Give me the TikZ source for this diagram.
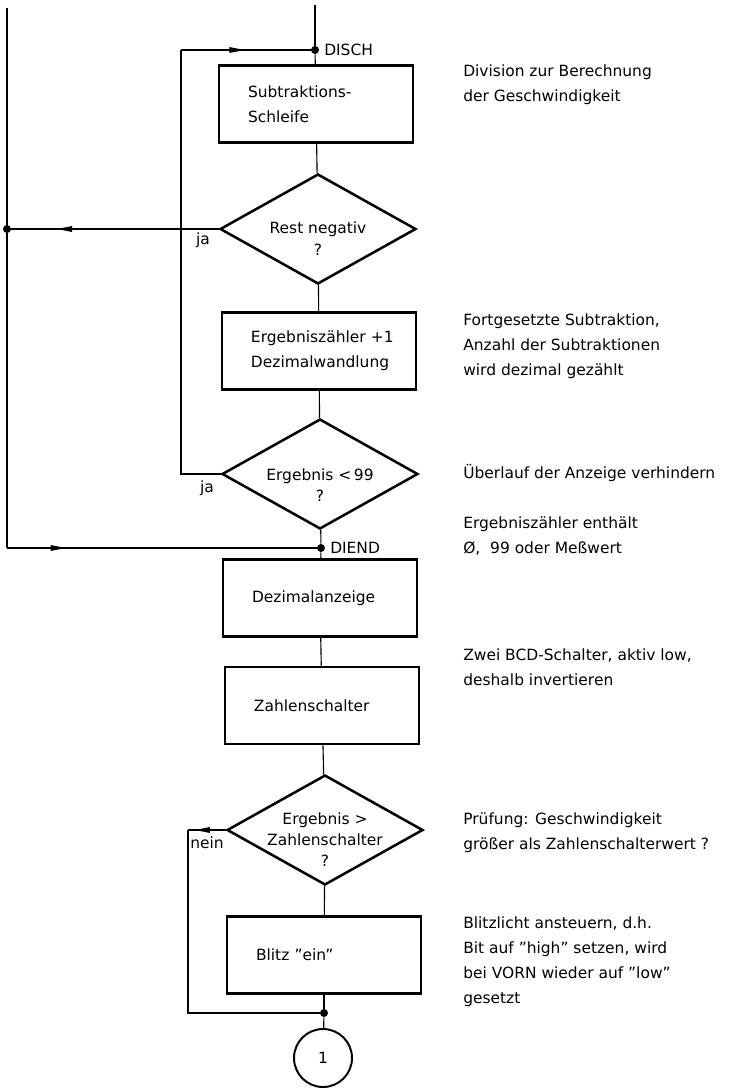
\documentclass[tikz,border=0pt]{standalone}
\usepackage{fontspec}
\setmainfont{DejaVu Sans}
\usetikzlibrary{shapes.geometric,arrows.meta,decorations.markings}

% comment text to the right of the chart
\newcommand{\annot}[3]{\node[annot] (#1) at (463,#2) {#3};}

\begin{document}
\begin{tikzpicture}
  [x=0.25mm, y=-0.25mm,
   every node/.style={font=\fontsize{11}{17.8}\selectfont},
   box/.style={rectangle, draw=black, line width=1.8pt, minimum width=48.5mm, minimum height=19.25mm,
     text width=34mm, align=left, inner sep=0pt},
   decision/.style={diamond, draw=black, line width=1.8pt, minimum width=49mm, minimum height=27.5mm, inner sep=0pt},
   qtext/.style={align=center, inner sep=0pt, font=\fontsize{11}{15}\selectfont},
   annot/.style={anchor=west, align=left, inner sep=0pt},
   dot/.style={circle, fill=black, inner sep=0pt, minimum size=2mm},
   flow/.style={line width=0.8pt},
   midarrow/.style={postaction={decorate, decoration={markings,
     mark=at position #1 with {\arrow{Triangle[length=3.8mm,width=1.4mm]}}}}},
  ]
  \useasboundingbox (0,0) rectangle (740,1089);

  % main column
  \coordinate (entry) at (315,5);
  \node[dot, label={right:DISCH}] (disch) at (315,50) {};
  \node[box] (sub) at (316,104) {Subtraktions-\\Schleife};
  \node[decision] (restneg) at (318,229) {};
  \node[qtext] (restneg-t) at ([yshift=-2.4mm]restneg.center) {Rest negativ\\?};
  \node[box] (count) at (319,351) {\mbox{Ergebniszähler +1}\\Dezimalwandlung};
  \node[decision] (limit) at (320,474) {};
  \node[qtext] (limit-t) at ([yshift=-2.75mm]limit.center) {Ergebnis <\,99\\?};
  \node[dot, label={right:DIEND}] (diend) at (321,548) {};
  \node[box] (show) at (320,598) {Dezimalanzeige};
  \node[box] (switch) at (322,705.5) {Zahlenschalter};
  \node[decision] (compare) at (325,830) {};
  \node[qtext] (compare-t) at ([yshift=-2.5mm]compare.center) {Ergebnis >\\Zahlenschalter\\?};
  \node[box] (flash) at (324,955) {Blitz "ein"};
  \node[dot] (merge) at (324,1013) {};
  \node[circle, draw=black, line width=1.4pt, minimum size=14.5mm, inner sep=0pt] (cont) at (323,1058) {1};

  % side lines
  \coordinate (outer top) at (7,8);
  \node[dot] (outerjoin) at (7,229) {};
  \coordinate (outer bottom) at (7,548);
  \coordinate (loop corner) at (181,474);
  \coordinate (loop top) at (181,50);
  \coordinate (nein corner) at (188,830);

  \node (ja1) at (203,240) {ja};
  \node (ja2) at (207,488) {ja};
  \node (nein) at (207,843) {nein};

  % straight flow
  \draw[flow] (entry) -- (disch);
  \draw[flow] (disch) -- (sub);
  \draw[flow] (sub) -- (restneg);
  \draw[flow] (restneg) -- (count);
  \draw[flow] (count) -- (limit);
  \draw[flow] (limit) -- (diend);
  \draw[flow] (diend) -- (show);
  \draw[flow] (show) -- (switch);
  \draw[flow] (switch) -- (compare);
  \draw[flow] (compare) -- (flash);
  \draw[flow] (flash) -- (merge);
  \draw[flow] (merge) -- (cont);

  % branches
  \draw[flow, midarrow=0.78] (restneg.west) -- (outerjoin);
  \draw[flow] (limit.west) -- (loop corner) -- (loop top);
  \draw[flow, midarrow=0.49] (loop top) -- (disch);
  \draw[flow] (outer top) -- (outerjoin) -- (outer bottom);
  \draw[flow, midarrow=0.19] (outer bottom) -- (diend);
  \draw[flow, midarrow=0.82] (compare.west) -- (nein corner);
  \draw[flow] (nein corner) |- (merge);

  \annot{divnote}{84.5}{Division zur Berechnung\\der Geschwindigkeit}
  \annot{subnote}{346.5}{Fortgesetzte Subtraktion,\\Anzahl der Subtraktionen\\wird dezimal gezählt}
  \annot{overflownote}{473}{Überlauf der Anzeige verhindern}
  \annot{resultnote}{536}{Ergebniszähler enthält\\Ø, \ 99 oder Meßwert}
  \annot{switchnote}{667.5}{Zwei BCD-Schalter, aktiv low,\\deshalb invertieren}
  \annot{testnote}{833}{Prüfung: Geschwindigkeit\\größer als Zahlenschalterwert ?}
  \annot{flashnote}{961.5}{Blitzlicht ansteuern, d.h.\\Bit auf "high" setzen, wird\\bei VORN wieder auf "low"\\gesetzt}
\end{tikzpicture}
\end{document}
